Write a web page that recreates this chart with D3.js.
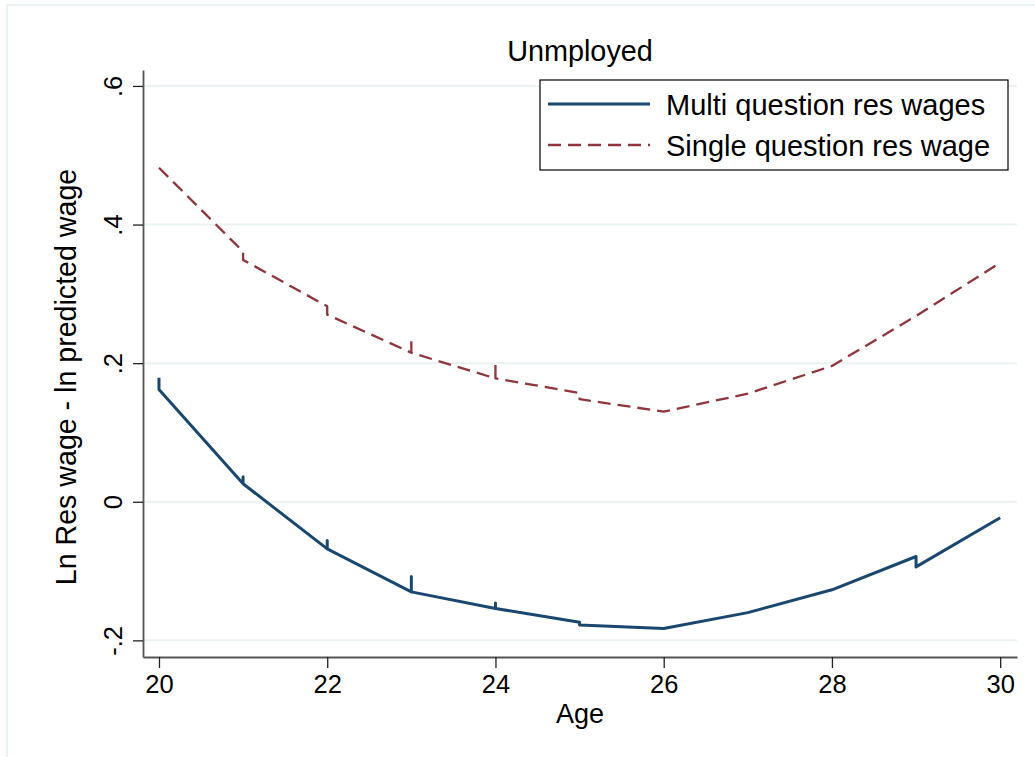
<!DOCTYPE html>
<html lang="en">
<head>
    <meta charset="UTF-8">
    <title>Unmployed</title>
    <script src="https://d3js.org/d3.v7.min.js"></script>
    <style>
        body { margin: 0; background: #fff; }
        text { font-family: "Liberation Sans", Arial, Helvetica, sans-serif; fill: #000; }
    </style>
</head>
<body>
    <svg width="1035" height="757"></svg>
    <script>

// Data (repeated ages give the little vertical jumps)
const multiAges = [20, 20, 21, 21, 21, 22, 22, 22, 23, 23, 23, 24, 24, 24, 25, 25, 26, 27, 28, 29, 29, 30];
const multiValues = [0.179, 0.162, 0.026, 0.036, 0.026, -0.068, -0.056, -0.068, -0.130, -0.108, -0.130,
    -0.154, -0.146, -0.154, -0.174, -0.178, -0.183, -0.160, -0.127, -0.079, -0.094, -0.023];

const singleAges = [20, 21, 21, 22, 22, 23, 23, 23, 24, 24, 24, 25, 25, 26, 27, 28, 29, 30];
const singleValues = [0.482, 0.361, 0.349, 0.282, 0.270, 0.215, 0.235, 0.215, 0.178, 0.200, 0.178,
    0.157, 0.148, 0.130, 0.156, 0.196, 0.268, 0.345];

const xTicks = [20, 22, 24, 26, 28, 30];
const yTicks = [-0.2, 0, 0.2, 0.4, 0.6];
const yTickLabels = ["-.2", "0", ".2", ".4", ".6"];

const seriesNames = ["Multi question res wages", "Single question res wage"];
const title = "Unmployed";
const xTitle = "Age";
const yTitle = "Ln Res wage - ln predicted wage";

const navy = "#1a476f";
const maroon = "#90353b";
const gridColor = "#eaf2f3";

const svg = d3.select("svg");

// outer graph frame (only top and left edges show in the picture)
svg.append("rect")
    .attr("x", 7).attr("y", 5)
    .attr("width", 1100).attr("height", 900)
    .attr("fill", "none")
    .attr("stroke", gridColor)
    .attr("stroke-width", 2);

const x = d3.scaleLinear().domain([19.81, 30.2]).range([143, 1017]);
const y = d3.scaleLinear().domain([-0.224, 0.623]).range([657, 70]);

// grid lines
svg.append("g")
    .selectAll("line")
    .data(yTicks)
    .join("line")
    .attr("x1", 143).attr("x2", 1017)
    .attr("y1", d => y(d)).attr("y2", d => y(d))
    .attr("stroke", gridColor)
    .attr("stroke-width", 2);

// axes
const xAxis = svg.append("g")
    .attr("transform", "translate(0,657)")
    .call(d3.axisBottom(x).tickValues(xTicks).tickSize(11).tickSizeOuter(0).tickPadding(7));

const yAxis = svg.append("g")
    .attr("transform", "translate(143,0)")
    .call(d3.axisLeft(y).tickValues(yTicks).tickSize(10).tickSizeOuter(0)
        .tickFormat((d, i) => yTickLabels[i]));

[xAxis, yAxis].forEach(a => {
    a.select(".domain").attr("stroke", "#555").attr("stroke-width", 1.8);
    a.selectAll(".tick line").attr("stroke", "#222").attr("stroke-width", 1.3);
    a.selectAll("text").attr("font-size", 25.5).attr("fill", "#000")
        .style("font-family", '"Liberation Sans", Arial, sans-serif');
});

xAxis.selectAll(".tick text").attr("dy", "0.71em");

// rotated y tick labels, baseline on the right
yAxis.selectAll(".tick text")
    .attr("x", null).attr("dy", null)
    .attr("text-anchor", "middle")
    .attr("transform", "translate(-21,0) rotate(-90)");

// lines
const multi = multiAges.map((a, i) => ({ age: a, value: multiValues[i] }));
const single = singleAges.map((a, i) => ({ age: a, value: singleValues[i] }));

const line = d3.line().x(d => x(d.age)).y(d => y(d.value));

svg.append("path")
    .datum(single)
    .attr("d", line)
    .attr("fill", "none")
    .attr("stroke", maroon)
    .attr("stroke-width", 2.3)
    .attr("stroke-dasharray", "13,7")
    .attr("stroke-linejoin", "round");

svg.append("path")
    .datum(multi)
    .attr("d", line)
    .attr("fill", "none")
    .attr("stroke", navy)
    .attr("stroke-width", 3)
    .attr("stroke-linejoin", "round");

// titles
svg.append("text")
    .attr("x", 580).attr("y", 61)
    .attr("text-anchor", "middle")
    .attr("font-size", 28.8)
    .text(title);

svg.append("text")
    .attr("x", 580).attr("y", 723)
    .attr("text-anchor", "middle")
    .attr("font-size", 27)
    .text(xTitle);

svg.append("text")
    .attr("transform", "translate(76,377) rotate(-90)")
    .attr("text-anchor", "middle")
    .attr("font-size", 28.6)
    .text(yTitle);

// legend
const legend = svg.append("g");
legend.append("rect")
    .attr("x", 540).attr("y", 80)
    .attr("width", 468).attr("height", 90)
    .attr("fill", "#fff")
    .attr("stroke", "#000")
    .attr("stroke-width", 1.2);

const legendRows = [
    { name: seriesNames[0], color: navy, width: 3, dash: null },
    { name: seriesNames[1], color: maroon, width: 2.3, dash: "13,7" }
];

legend.selectAll("g.row")
    .data(legendRows)
    .join("g")
    .attr("class", "row")
    .attr("transform", (d, i) => `translate(0,${104 + i * 41})`)
    .each(function (d) {
        const g = d3.select(this);
        g.append("line")
            .attr("x1", 548).attr("x2", 650)
            .attr("y1", 0).attr("y2", 0)
            .attr("stroke", d.color)
            .attr("stroke-width", d.width)
            .attr("stroke-dasharray", d.dash);
        g.append("text")
            .attr("x", 666).attr("y", 11)
            .attr("font-size", 29)
            .text(d.name);
    });

    </script>
</body>
</html>
